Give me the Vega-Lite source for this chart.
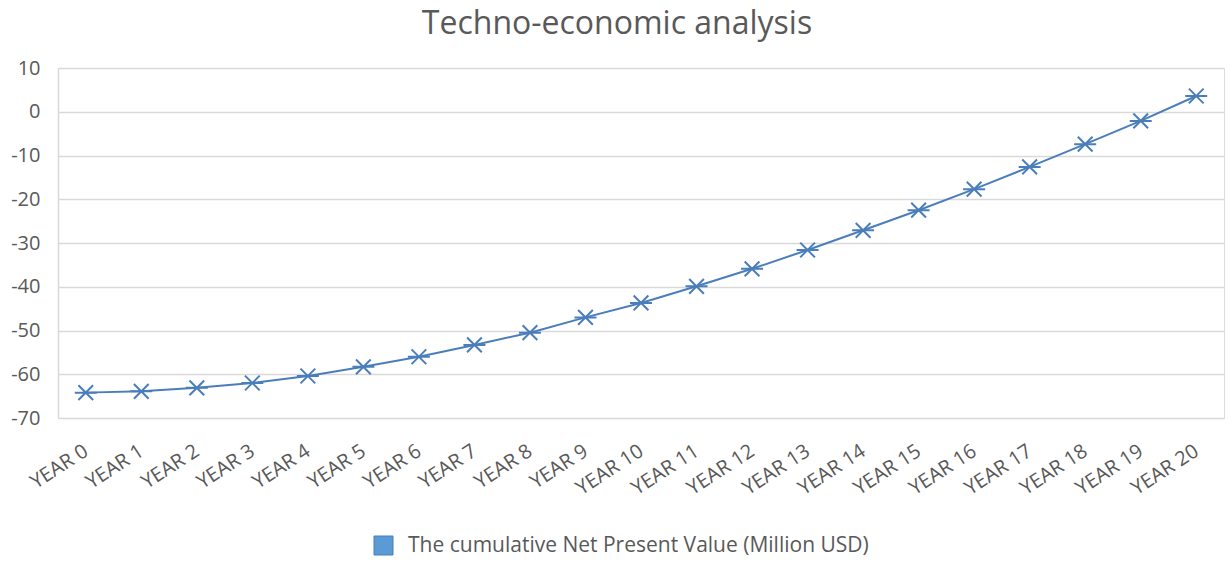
{
  "$schema": "https://vega.github.io/schema/vega-lite/v6.json",
  "width": 1166,
  "height": 350,
  "autosize": {"type": "none"},
  "padding": {"left": 58, "top": 68, "right": 7, "bottom": 144},
  "background": "white",
  "title": {
    "text": "Techno-economic analysis",
    "font": "Open Sans",
    "fontSize": 32,
    "fontWeight": "normal",
    "color": "#595959",
    "anchor": "middle",
    "dx": -24,
    "baseline": "alphabetic",
    "offset": -8
  },
  "data": {
    "values": [
      {"year": "YEAR 0", "npv": -64.2, "series": "The cumulative Net Present Value (Million USD)"},
      {"year": "YEAR 1", "npv": -63.9, "series": "The cumulative Net Present Value (Million USD)"},
      {"year": "YEAR 2", "npv": -63.1, "series": "The cumulative Net Present Value (Million USD)"},
      {"year": "YEAR 3", "npv": -62.0, "series": "The cumulative Net Present Value (Million USD)"},
      {"year": "YEAR 4", "npv": -60.4, "series": "The cumulative Net Present Value (Million USD)"},
      {"year": "YEAR 5", "npv": -58.3, "series": "The cumulative Net Present Value (Million USD)"},
      {"year": "YEAR 6", "npv": -56.0, "series": "The cumulative Net Present Value (Million USD)"},
      {"year": "YEAR 7", "npv": -53.3, "series": "The cumulative Net Present Value (Million USD)"},
      {"year": "YEAR 8", "npv": -50.5, "series": "The cumulative Net Present Value (Million USD)"},
      {"year": "YEAR 9", "npv": -47.0, "series": "The cumulative Net Present Value (Million USD)"},
      {"year": "YEAR 10", "npv": -43.7, "series": "The cumulative Net Present Value (Million USD)"},
      {"year": "YEAR 11", "npv": -39.9, "series": "The cumulative Net Present Value (Million USD)"},
      {"year": "YEAR 12", "npv": -35.9, "series": "The cumulative Net Present Value (Million USD)"},
      {"year": "YEAR 13", "npv": -31.6, "series": "The cumulative Net Present Value (Million USD)"},
      {"year": "YEAR 14", "npv": -27.1, "series": "The cumulative Net Present Value (Million USD)"},
      {"year": "YEAR 15", "npv": -22.5, "series": "The cumulative Net Present Value (Million USD)"},
      {"year": "YEAR 16", "npv": -17.7, "series": "The cumulative Net Present Value (Million USD)"},
      {"year": "YEAR 17", "npv": -12.6, "series": "The cumulative Net Present Value (Million USD)"},
      {"year": "YEAR 18", "npv": -7.4, "series": "The cumulative Net Present Value (Million USD)"},
      {"year": "YEAR 19", "npv": -2.1, "series": "The cumulative Net Present Value (Million USD)"},
      {"year": "YEAR 20", "npv": 3.6, "series": "The cumulative Net Present Value (Million USD)"}
    ]
  },
  "encoding": {
    "x": {
      "field": "year",
      "type": "ordinal",
      "sort": null,
      "title": null,
      "axis": {
        "labelAngle": -33,
        "labelAlign": "right",
        "labelBaseline": "middle",
        "labelFont": "Open Sans",
        "labelFontSize": 20,
        "labelColor": "#595959",
        "labelPadding": 31,
        "ticks": false,
        "domain": false,
        "grid": false
      }
    },
    "y": {
      "field": "npv",
      "type": "quantitative",
      "title": null,
      "scale": {"domain": [-70, 10], "nice": false, "zero": false},
      "axis": {
        "values": [-70, -60, -50, -40, -30, -20, -10, 0, 10],
        "labelExpr": "datum.value + ''",
        "labelFont": "Open Sans",
        "labelFontSize": 20,
        "labelColor": "#595959",
        "labelPadding": 18,
        "ticks": false,
        "domain": true,
        "domainColor": "#d9d9d9",
        "domainWidth": 1.5,
        "grid": true,
        "gridColor": "#d9d9d9",
        "gridWidth": 1.5
      }
    }
  },
  "layer": [
    {
      "mark": {"type": "line", "strokeWidth": 2},
      "encoding": {
        "color": {
          "field": "series",
          "type": "nominal",
          "scale": {"range": ["#4a7ebb"]},
          "legend": {
            "title": null,
            "orient": "none",
            "legendX": 315,
            "legendY": 467,
            "padding": 0,
            "symbolType": "square",
            "symbolSize": 361,
            "labelFont": "Open Sans",
            "labelFontSize": 21,
            "labelColor": "#595959",
            "labelOffset": 14,
            "labelLimit": 900,
            "encode": {
              "symbols": {
                "update": {
                  "fill": {"value": "#5b9bd5"},
                  "stroke": {"value": "#41719c"},
                  "strokeWidth": {"value": 1},
                  "opacity": {"value": 1}
                }
              }
            }
          }
        }
      }
    },
    {
      "mark": {
        "type": "point",
        "shape": "M-0.67,-0.67L0.67,0.67M-0.67,0.67L0.67,-0.67M-1,0L1,0",
        "filled": false,
        "size": 484,
        "strokeWidth": 2,
        "color": "#4a7ebb",
        "opacity": 1
      }
    }
  ]
}
